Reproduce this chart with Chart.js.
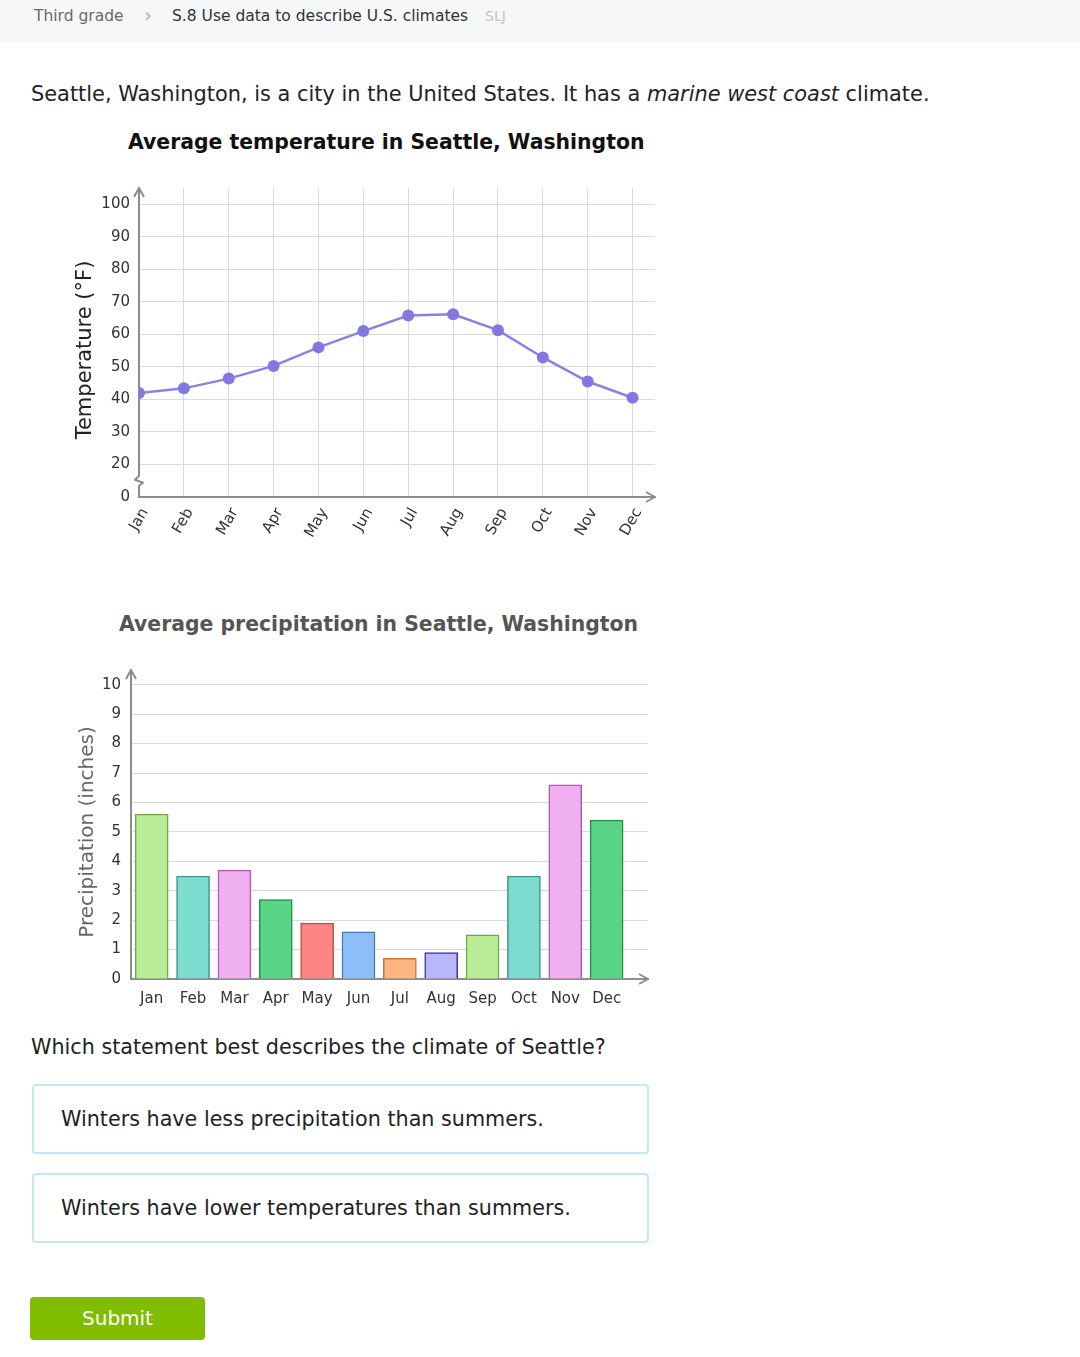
<!DOCTYPE html>
<html>
<head>
<meta charset="utf-8">
<script src="https://cdn.jsdelivr.net/npm/chart.js@4.4.1/dist/chart.umd.min.js"></script>
<style>
  body { margin: 0; width: 1080px; height: 1357px; background: #fff; font-family: "DejaVu Sans", Verdana, sans-serif; color: #222; position: relative; overflow: hidden; }
  .crumbs { position: absolute; left: 0; top: 0; width: 1080px; height: 42px; background: #f5f7f8; font-size: 15.5px; }
  .crumbs span { position: absolute; top: 7px; }
  .abs { position: absolute; white-space: nowrap; }
  .ytitle { position: absolute; width: 0; height: 0; }
  .ytitle span { position: absolute; white-space: nowrap; transform: translate(-50%, -50%) rotate(-90deg); }
  .choice { position: absolute; left: 32px; width: 613px; height: 66px; border: 2px solid #c3e8f3; border-radius: 4px; box-sizing: content-box; font-size: 20.7px; line-height: 66px; }
  .choice span { position: absolute; left: 27px; }
  .btn { position: absolute; left: 30px; top: 1297px; width: 175px; height: 43px; background: #80bc00; border-radius: 4px; color: #fff; font-size: 20px; line-height: 43px; text-align: center; }
  canvas { position: absolute; }
</style>
</head>
<body>
<div class="crumbs">
  <span style="left:34px;color:#6b6b6b">Third grade</span>
  <span style="left:144px;top:3px;color:#b5b5b5;font-size:20px;font-family:'DejaVu Sans ExtraLight','DejaVu Sans',sans-serif">›</span>
  <span style="left:172px;color:#333">S.8 Use data to describe U.S. climates</span>
  <span style="left:485px;color:#c4c4c4;font-size:14px;top:8px">SLJ</span>
</div>

<div class="abs" style="left:31px;top:82px;font-size:20.9px">Seattle, Washington, is a city in the United States. It has a <i>marine west coast</i> climate.</div>
<div class="abs" style="left:128px;top:130px;font-size:20.4px;font-weight:bold;color:#111">Average temperature in Seattle, Washington</div>
<div class="abs" style="left:119px;top:612px;font-size:20.4px;font-weight:bold;color:#555">Average precipitation in Seattle, Washington</div>

<div style="position:absolute;left:60px;top:180px;width:610px;height:370px"><canvas id="tempChart"></canvas></div>
<div style="position:absolute;left:60px;top:660px;width:610px;height:360px"><canvas id="precipChart"></canvas></div>
<div class="ytitle" style="left:84px;top:350px"><span style="font-size:21px;color:#222">Temperature (°F)</span></div>
<div class="ytitle" style="left:86px;top:832px"><span style="font-size:20px;color:#666">Precipitation (inches)</span></div>

<div class="abs" style="left:31px;top:1035px;font-size:20.7px">Which statement best describes the climate of Seattle?</div>
<div class="choice" style="top:1084px"><span>Winters have less precipitation than summers.</span></div>
<div class="choice" style="top:1173px"><span>Winters have lower temperatures than summers.</span></div>
<div class="btn">Submit</div>

<script>
// months shared by both charts
const months = ['Jan', 'Feb', 'Mar', 'Apr', 'May', 'Jun', 'Jul', 'Aug', 'Sep', 'Oct', 'Nov', 'Dec'];

// average temperature (°F)
const temps = [42, 43.4, 46.4, 50.3, 56, 61, 65.8, 66.2, 61.3, 52.9, 45.5, 40.5];
// the axis is broken: the bottom tick stands for 0
const tempTickValues = [10, 20, 30, 40, 50, 60, 70, 80, 90, 100];
const tempTickLabels = ['0', '20', '30', '40', '50', '60', '70', '80', '90', '100'];

// average precipitation (inches)
const precip = [5.6, 3.5, 3.7, 2.7, 1.9, 1.6, 0.7, 0.9, 1.5, 3.5, 6.6, 5.4];
const precipTicks = [0, 1, 2, 3, 4, 5, 6, 7, 8, 9, 10];
const barFill = ['#b9ed95', '#7bdccf', '#efaff1', '#58d686', '#ff8585', '#8bbff6', '#ffb583', '#b9b6fa', '#b9ed95', '#7bdccf', '#efaff1', '#58d686'];
const barEdge = ['#6fa848', '#3d9386', '#ad58b3', '#2b8a4c', '#c84a4a', '#4577c2', '#c27740', '#3a35a5', '#6fa848', '#3d9386', '#ad58b3', '#2b8a4c'];

const AXIS = '#8c8c8c';
const GRID = '#dadada';

// arrows on both axis ends, plus the zigzag break on the y axis
const axisDecor = {
    id: 'axisDecor',
    afterDraw(chart, args, opts) {
        const { ctx, chartArea: a } = chart;
        ctx.save();
        ctx.strokeStyle = AXIS;
        ctx.lineWidth = 2;
        ctx.lineJoin = 'round';
        ctx.beginPath();
        ctx.moveTo(a.left - 5, a.top + 9);
        ctx.lineTo(a.left, a.top);
        ctx.lineTo(a.left + 5, a.top + 9);
        ctx.moveTo(a.right - 9, a.bottom - 5);
        ctx.lineTo(a.right, a.bottom);
        ctx.lineTo(a.right - 9, a.bottom + 5);
        ctx.stroke();
        if (opts.breakAt != null) {
            const y = chart.scales.y.getPixelForValue(opts.breakAt);
            ctx.fillStyle = '#fff';
            ctx.fillRect(a.left - 3, y - 6, 6, 12);
            ctx.beginPath();
            ctx.moveTo(a.left, y - 8);
            ctx.lineTo(a.left, y - 5);
            ctx.lineTo(a.left - 4, y - 1);
            ctx.lineTo(a.left + 4, y + 2);
            ctx.lineTo(a.left, y + 5);
            ctx.lineTo(a.left, y + 8);
            ctx.stroke();
        }
        ctx.restore();
    }
};

const tickFont = { family: '"DejaVu Sans", Verdana, sans-serif', size: 15 };

// fixed axis width, and no extra room above the top tick label
const fixWidth = w => s => { s.width = w; s.paddingTop = 0; s.paddingBottom = 0; };

new Chart(document.getElementById('tempChart'), {
    type: 'line',
    data: {
        datasets: [{
            data: temps.map((t, i) => ({ x: i, y: t })),
            borderColor: '#8b81e2',
            backgroundColor: '#8378e0',
            pointBackgroundColor: '#8378e0',
            pointBorderWidth: 0,
            pointRadius: 6,
            borderWidth: 2.5,
            tension: 0
        }]
    },
    options: {
        responsive: true,
        maintainAspectRatio: false,
        animation: false,
        layout: { padding: { top: 8, right: 15 } },
        plugins: { legend: { display: false }, tooltip: { enabled: false }, axisDecor: { breakAt: 15 } },
        scales: {
            x: {
                type: 'linear',
                min: 0,
                max: 11.5,
                afterBuildTicks: s => { s.ticks = months.map((m, i) => ({ value: i })); },
                afterFit: s => { s.height = 53; },
                grid: { color: GRID, drawTicks: false },
                border: { color: AXIS, width: 2 },
                ticks: {
                    color: '#333',
                    font: tickFont,
                    padding: 8,
                    labelOffset: 6,
                    minRotation: 60,
                    maxRotation: 60,
                    autoSkip: false,
                    callback: v => months[v]
                }
            },
            y: {
                min: 10,
                max: 105,
                afterBuildTicks: s => { s.ticks = tempTickValues.map(v => ({ value: v })); },
                afterFit: fixWidth(79),
                grid: { color: GRID, drawTicks: false },
                border: { color: AXIS, width: 2 },
                ticks: {
                    color: '#333',
                    font: tickFont,
                    padding: 9,
                    callback: v => tempTickLabels[tempTickValues.indexOf(v)]
                }
            }
        }
    },
    plugins: [axisDecor]
});

new Chart(document.getElementById('precipChart'), {
    type: 'bar',
    data: {
        datasets: [{
            data: precip.map((p, i) => ({ x: i, y: p })),
            backgroundColor: barFill,
            borderColor: barEdge,
            borderWidth: 1.5,
            barThickness: 33
        }]
    },
    options: {
        responsive: true,
        maintainAspectRatio: false,
        animation: false,
        layout: { padding: { top: 10, right: 22 } },
        plugins: { legend: { display: false }, tooltip: { enabled: false }, axisDecor: {} },
        scales: {
            x: {
                type: 'linear',
                offset: false,
                min: -0.5,
                max: 12,
                afterBuildTicks: s => { s.ticks = months.map((m, i) => ({ value: i })); },
                afterFit: s => { s.height = 41; },
                grid: { display: false },
                border: { color: AXIS, width: 2 },
                ticks: { color: '#333', font: tickFont, padding: 3, maxRotation: 0, autoSkip: false, callback: v => months[v] }
            },
            y: {
                min: 0,
                max: 10.5,
                afterBuildTicks: s => { s.ticks = precipTicks.map(v => ({ value: v })); },
                afterFit: fixWidth(71),
                grid: { color: GRID, drawTicks: false },
                border: { color: AXIS, width: 2 },
                ticks: { color: '#333', font: tickFont, padding: 10 }
            }
        }
    },
    plugins: [axisDecor]
});
</script>
</body>
</html>
